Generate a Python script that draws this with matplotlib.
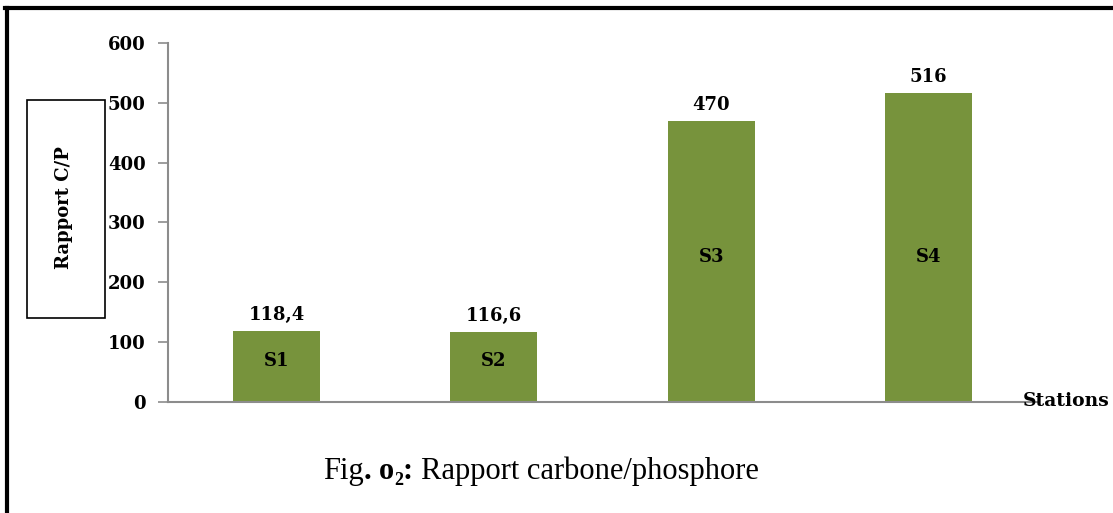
import matplotlib
matplotlib.use("Agg")
import matplotlib.pyplot as plt
from matplotlib.lines import Line2D
from matplotlib.patches import Rectangle

categories = ["S1", "S2", "S3", "S4"]
values = [118.4, 116.6, 470, 516]
value_labels = ["118,4", "116,6", "470", "516"]
yticks = [0, 100, 200, 300, 400, 500, 600]

plt.rcParams['font.family'] = ['DejaVu Serif']

W, H = 1113, 513
fig = plt.figure(figsize=(W / 100, H / 100), dpi=100)
ax = fig.add_axes([168 / W, 1 - 402 / H, (1037 - 168) / W, (402 - 43) / H])

x = list(range(len(categories)))
ax.bar(x, values, width=0.4, color="#77933C", zorder=2)
ax.set_xlim(-0.5, 3.5)
ax.set_ylim(0, 600)
ax.set_yticks(yticks)
ax.set_yticklabels([str(t) for t in yticks], fontsize=13, fontweight='bold')
ax.set_xticks([])

axis_color = "#8C8C8C"
for s in ["top", "right"]:
    ax.spines[s].set_visible(False)
for s in ["left", "bottom"]:
    ax.spines[s].set_color(axis_color)
    ax.spines[s].set_linewidth(1.5)
ax.tick_params(axis='y', direction='out', length=7, width=1.2, color=axis_color, pad=9)

# inner label heights (layout: manually placed in the original)
inner_y = [68, 68, 242, 242]
for xi, v, lab, cat, iy in zip(x, values, value_labels, categories, inner_y):
    ax.annotate(lab, (xi, v), xytext=(0, 5), textcoords='offset points',
                ha='center', va='bottom', fontsize=13, fontweight='bold')
    ax.text(xi, iy, cat, ha='center', va='center', fontsize=13, fontweight='bold')

ax.text(1023 / W, 1 - 401 / H, "Stations", transform=fig.transFigure,
        ha='left', va='center', fontsize=13.5, fontweight='bold')

# y-label box
fig.patches.append(Rectangle((27 / W, 1 - 318 / H), (105 - 27) / W, (318 - 100) / H,
                             transform=fig.transFigure, fill=False, edgecolor='black',
                             linewidth=1.2))
fig.text(64 / W, 1 - 208 / H, "Rapport C/P", rotation=90, ha='center', va='center',
         fontsize=13, fontweight='bold')

# caption composed of pieces
cap_font = ['Liberation Serif']
FS = 22
pieces = [("Fig", 'normal', FS, 0), (". ", 'bold', FS, 0), ("o", 'bold', FS, 0),
          ("2", 'bold', 13, -6), (": ", 'bold', FS, 0),
          ("Rapport carbone/phosphore", 'normal', FS, 0)]
renderer = fig.canvas.get_renderer()

def text_w(s, wgt, fs):
    t = fig.text(0, 0, "|" + s + "|", fontsize=fs, fontweight=wgt, family=cap_font)
    w1 = t.get_window_extent(renderer).width
    t.remove()
    t2 = fig.text(0, 0, "||", fontsize=fs, fontweight=wgt, family=cap_font)
    w2 = t2.get_window_extent(renderer).width
    t2.remove()
    return w1 - w2

widths = [text_w(s, wgt, fs) for s, wgt, fs, dy in pieces]
total = sum(widths)
cx, base_y = 541, 479
xpos = cx - total / 2
for w, (s, wgt, fs, dy) in zip(widths, pieces):
    fig.text(xpos / W, (H - base_y + dy) / H, s, fontsize=fs, fontweight=wgt,
             family=cap_font, ha='left', va='baseline')
    xpos += w

# frame lines (top and left)
fig.add_artist(Line2D([5 / W, 1], [1 - 8 / H, 1 - 8 / H], transform=fig.transFigure,
                      color='black', linewidth=3))
fig.add_artist(Line2D([6.5 / W, 6.5 / W], [0, 1 - 8 / H], transform=fig.transFigure,
                      color='black', linewidth=3))

fig.savefig("out.png", dpi=100)
